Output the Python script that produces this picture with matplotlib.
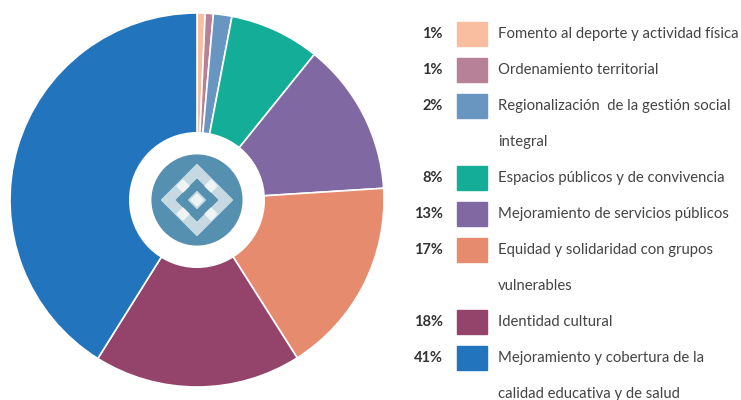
import matplotlib.pyplot as plt
from matplotlib.patches import Circle, Polygon, Rectangle

# data, clockwise from the top
values = [0.7, 0.7, 1.6, 7.8, 13.2, 17.0, 17.9, 41.1]
pct_labels = ["1%", "1%", "2%", "8%", "13%", "17%", "18%", "41%"]
names = [
    "Fomento al deporte y actividad física",
    "Ordenamiento territorial",
    "Regionalización  de la gestión social\nintegral",
    "Espacios públicos y de convivencia",
    "Mejoramiento de servicios públicos",
    "Equidad y solidaridad con grupos\nvulnerables",
    "Identidad cultural",
    "Mejoramiento y cobertura de la\ncalidad educativa y de salud",
]
colors = ["#F8BE9F", "#B78197", "#6896C0", "#13AD98", "#8069A2",
          "#E68B6E", "#94436B", "#2274BC"]

plt.rcParams['font.family'] = ['Lato', 'DejaVu Sans']

fig = plt.figure(figsize=(7.41, 4.0), dpi=100)

# donut
ax = fig.add_axes([10 / 741, 13 / 400, 374 / 741, 374 / 400])
ax.pie(values, colors=colors, startangle=90, counterclock=False,
       wedgeprops=dict(edgecolor="white", linewidth=1.2))
ax.add_patch(Circle((0, 0), 0.36, color="white", zorder=3))
ax.add_patch(Circle((0, 0), 0.24, color="#5590B0", zorder=4))

# logo: diamond ring with small light squares
s = 0.19
light = "#C6D9E3"
ax.add_patch(Polygon([(0, s), (s, 0), (0, -s), (-s, 0)], closed=True,
                     color=light, zorder=5))
t = 0.11
ax.add_patch(Polygon([(0, t), (t, 0), (0, -t), (-t, 0)], closed=True,
                     color="#5590B0", zorder=6))
u = 0.045
ax.add_patch(Polygon([(0.0, u), (u, 0), (0.0, -u), (-u, 0)], closed=True,
                     color=light, zorder=7))
for cx, cy in [(-0.075, 0.075), (0.075, 0.075), (-0.075, -0.075),
               (0.075, -0.075), (0.0, 0.0)]:
    d = 0.032
    ax.add_patch(Polygon([(cx, cy + d), (cx + d, cy), (cx, cy - d), (cx - d, cy)],
                         closed=True, color="#EEF3F6", zorder=8))
ax.set_aspect("equal")
ax.set_xlim(-1, 1)
ax.set_ylim(-1, 1)
ax.axis("off")

# legend drawn by hand, in pixel coordinates
lg = fig.add_axes([0, 0, 1, 1])
lg.set_xlim(0, 741)
lg.set_ylim(400, 0)
lg.axis("off")

row_h = 36
y = 34
for pct, name, col in zip(pct_labels, names, colors):
    lg.text(443, y, pct, ha="right", va="center", fontsize=10.5,
            fontweight="bold", color="#333333")
    lg.add_patch(Rectangle((457, y - 12), 30, 24, color=col))
    for i, line in enumerate(name.split("\n")):
        lg.text(498, y + i * row_h, line, ha="left", va="center",
                fontsize=10.7, color="#444444")
    y += row_h * len(name.split("\n"))

fig.savefig("out.png", dpi=100)
